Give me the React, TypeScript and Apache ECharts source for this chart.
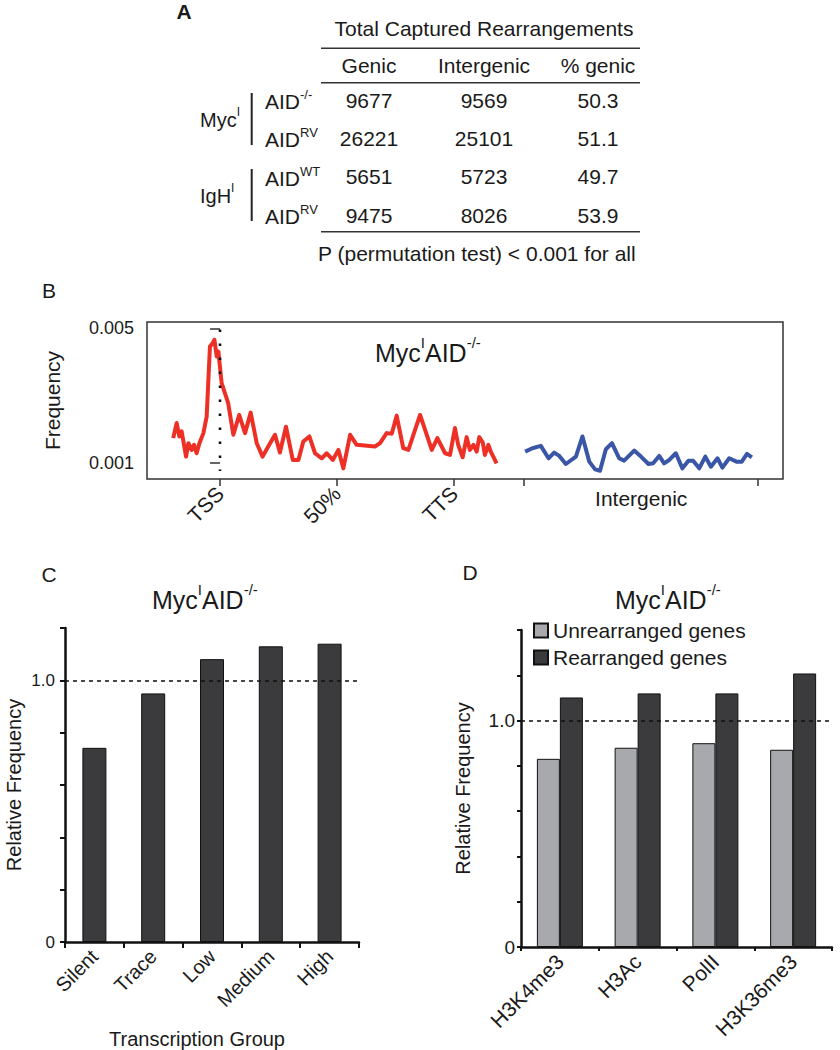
import { useEffect, useRef } from 'react';
import * as echarts from 'echarts';

const FONT = '"Liberation Sans", Arial, Helvetica, sans-serif';
const INK = '#1a1a1a';

// ---------- Panel A: table ----------
const tableTitle = 'Total Captured Rearrangements';
const tableHeaders = ['Genic', 'Intergenic', '% genic'];
const tableGroups = ['Myc', 'IgH'];
const tableGroupSup = 'I';
const rowGenotypes = ['-/-', 'RV', 'WT', 'RV'];
const genicCounts = [9677, 26221, 5651, 9475];
const intergenicCounts = [9569, 25101, 5723, 8026];
const percentGenic = ['50.3', '51.1', '49.7', '53.9'];
const tableFootnote = 'P (permutation test) < 0.001 for all';

// ---------- Panel B: frequency profile ----------
const genicTickPos = [0, 50, 100];
const genicTickLabels = ['TSS', '50%', 'TTS'];
const intergenicTickPos = [0, 100];
const intergenicLabel = 'Intergenic';
const freqTicks = [0.001, 0.005];
// genic position in % of gene body (TSS = 0, TTS = 100)
const genicPos = [-20.0, -18.5, -17.4, -16.4, -14.5, -13.5, -12.1, -11.1, -10.0, -8.8, -7.1, -5.7, -4.3, -3.1, -2.4, -1.4, -0.7, 0.7, 3.5, 5.7, 8.2, 10.7, 13.1, 15.7, 18.2, 20.6, 23.5, 25.6, 28.2, 31.1, 33.5, 35.6, 38.2, 40.6, 43.5, 45.6, 48.2, 50.6, 52.7, 55.6, 58.4, 66.2, 68.4, 71.2, 73.4, 75.5, 78.3, 80.5, 85.5, 90.5, 92.9, 96.2, 98.3, 100.4, 101.8, 103.7, 105.4, 106.8, 108.3, 109.7, 110.8, 112.3, 113.2, 114.7, 115.7, 116.8, 118.2];
const genicFreq = [0.00173, 0.00218, 0.00178, 0.00193, 0.00118, 0.00158, 0.00138, 0.00153, 0.00128, 0.00158, 0.00188, 0.00237, 0.00446, 0.00456, 0.00466, 0.00416, 0.00431, 0.00337, 0.00277, 0.00183, 0.00242, 0.00188, 0.00249, 0.00158, 0.00118, 0.00148, 0.00183, 0.0013, 0.00207, 0.00108, 0.00108, 0.00163, 0.00178, 0.00128, 0.00113, 0.00128, 0.00108, 0.00138, 0.00083, 0.00183, 0.00153, 0.00148, 0.00158, 0.00188, 0.00186, 0.0024, 0.00143, 0.00138, 0.00242, 0.00138, 0.00173, 0.00128, 0.00123, 0.00203, 0.00153, 0.00116, 0.00176, 0.00138, 0.00153, 0.00133, 0.00176, 0.0016, 0.00123, 0.00153, 0.00133, 0.00118, 0.00098];
// intergenic position in % of intergenic span
const interPos = [0.4, 3.5, 7.1, 10.4, 12.8, 15.0, 17.8, 22.1, 24.9, 27.8, 30.3, 32.4, 34.9, 37.5, 40.6, 42.7, 47.0, 49.9, 53.1, 55.1, 57.7, 59.8, 62.0, 64.8, 67.6, 70.2, 72.2, 74.8, 77.4, 79.8, 82.6, 84.7, 87.6, 90.7, 93.0, 95.2, 97.3];
const interFreq = [0.00133, 0.00143, 0.0015, 0.00113, 0.0013, 0.0012, 0.00096, 0.00118, 0.00178, 0.00103, 0.0008, 0.00076, 0.0014, 0.00158, 0.00113, 0.00106, 0.00136, 0.00118, 0.00096, 0.00098, 0.0012, 0.00098, 0.00108, 0.00128, 0.00083, 0.00106, 0.00106, 0.00083, 0.00118, 0.00088, 0.00113, 0.00085, 0.00113, 0.00103, 0.00103, 0.00126, 0.00116];

// ---------- Panel C ----------
const transcriptionGroups = ['Silent', 'Trace', 'Low', 'Medium', 'High'];
const transcriptionRelFreq = [0.742, 0.95, 1.081, 1.13, 1.14];

// ---------- Panel D ----------
const chromatinMarks = ['H3K4me3', 'H3Ac', 'PolII', 'H3K36me3'];
const unrearrangedRelFreq = [0.831, 0.88, 0.9, 0.871];
const rearrangedRelFreq = [1.102, 1.12, 1.12, 1.208];
const seriesNamesD = ['Unrearranged genes', 'Rearranged genes'];

const panelTitle = '{m|Myc}{s|I}{m|AID}{s|-/-}';

// layout constants
const INTER_OFFSET = 130; // where intergenic 0% sits on the panel-B x scale
const B_MIN = -31.2;
const B_MAX = 240.6;

function relLabel(v: number) {
  if (Math.abs(v) < 1e-9) return '0';
  if (Math.abs(v - 1) < 1e-9) return '1.0';
  return '';
}

function buildTableGraphics() {
  const els: any[] = [];
  const txt = (text: string, x: number, y: number, align = 'center', size = 21, extra: any = {}) => ({
    type: 'text',
    x,
    y,
    silent: true,
    style: { text, fontSize: size, fontFamily: FONT, fill: INK, align, verticalAlign: 'middle', ...extra },
  });
  const hline = (y: number) => ({
    type: 'line',
    silent: true,
    shape: { x1: 321, y1: y, x2: 640, y2: y },
    style: { stroke: '#333', lineWidth: 1.6 },
  });
  const vline = (x: number, y1: number, y2: number) => ({
    type: 'line',
    silent: true,
    shape: { x1: x, y1, x2: x, y2 },
    style: { stroke: '#222', lineWidth: 2 },
  });
  const colX = [369, 484, 598];
  const rowY = [100, 138.3, 176.7, 215];
  els.push(txt('A', 184, 11, 'center', 21, { fontWeight: 'bold' }));
  els.push(txt(tableTitle, 484, 28));
  els.push(hline(48.3));
  tableHeaders.forEach((h, i) => els.push(txt(h, colX[i], 65)));
  els.push(hline(82.7));
  rowY.forEach((y, r) => {
    els.push(
      txt('{m|AID}{s|' + rowGenotypes[r] + '}', 265, y, 'left', 21, {
        rich: {
          m: { fontSize: 21, fontFamily: FONT, fill: INK, lineHeight: 24, verticalAlign: 'bottom' },
          s: { fontSize: 13, fontFamily: FONT, fill: INK, lineHeight: 14, verticalAlign: 'top' },
        },
      })
    );
    els.push(txt(String(genicCounts[r]), colX[0], y));
    els.push(txt(String(intergenicCounts[r]), colX[1], y));
    els.push(txt(percentGenic[r], colX[2], y));
  });
  const groupY = [118.3, 194];
  tableGroups.forEach((g, i) => {
    els.push(
      txt('{m|' + g + '}{s|' + tableGroupSup + '}', 200, groupY[i], 'left', 21, {
        rich: {
          m: { fontSize: 20, fontFamily: FONT, fill: INK, lineHeight: 24, verticalAlign: 'bottom' },
          s: { fontSize: 12, fontFamily: FONT, fill: INK, lineHeight: 14, verticalAlign: 'top' },
        },
      })
    );
  });
  els.push(vline(251.7, 93, 145));
  els.push(vline(251.7, 169, 221));
  els.push(hline(231.7));
  els.push(txt(tableFootnote, 318, 253.5, 'left', 21));
  // panel letters
  els.push(txt('B', 49, 290, 'center', 21));
  els.push(txt('C', 49, 574, 'center', 21));
  els.push(txt('D', 470, 572, 'center', 21));
  return els;
}

export default function App() {
  const ref = useRef<HTMLDivElement>(null);
  useEffect(() => {
    if (!ref.current) return;
    const chart = echarts.init(ref.current, undefined, { renderer: 'svg' });
    const titleRich = {
      m: { fontSize: 25, fontWeight: 'normal', fontFamily: FONT, color: INK, lineHeight: 30, verticalAlign: 'bottom' },
      s: { fontSize: 15, fontWeight: 'normal', fontFamily: FONT, color: INK, lineHeight: 16, verticalAlign: 'top' },
    };
    const titleCfg = (left: number, top: number) => ({
      text: panelTitle,
      left,
      top,
      padding: 0,
      textStyle: { fontWeight: 'normal', rich: titleRich },
    });
    const relAxis = (gridIndex: number, max: number, nameGap: number, labelSize: number, tickLen: number, margin: number) => ({
      type: 'value',
      gridIndex,
      min: 0,
      max,
      interval: 0.2,
      splitLine: { show: false },
      axisLine: { show: true, lineStyle: { color: '#111', width: 2.5 } },
      axisTick: { show: true, length: tickLen, lineStyle: { color: '#111', width: 2 } },
      axisLabel: { formatter: relLabel, fontSize: labelSize, color: INK, margin, fontFamily: FONT },
      name: 'Relative Frequency',
      nameLocation: 'middle',
      nameGap,
      nameTextStyle: { fontSize: 20, color: INK, fontFamily: FONT },
    });
    const dashed1 = {
      silent: true,
      symbol: ['none', 'none'],
      label: { show: false },
      lineStyle: { color: '#111', width: 1.5, type: [4, 4] },
      data: [{ yAxis: 1 }],
    };
    const barBorder = { borderColor: '#111', borderWidth: 1 };

    const option: any = {
      animation: false,
      backgroundColor: '#fff',
      textStyle: { fontFamily: FONT },
      title: [titleCfg(375, 335), titleCfg(152, 582), titleCfg(615, 582)],
      legend: {
        data: seriesNamesD,
        orient: 'vertical',
        left: 533,
        top: 620,
        padding: 0,
        itemWidth: 14,
        itemHeight: 14,
        itemGap: 6,
        icon: 'rect',
        textStyle: { fontSize: 21, color: INK, fontFamily: FONT },
      },
      grid: [
        { left: 147, top: 322, width: 636, height: 157, show: true, borderColor: '#333', borderWidth: 1.5, backgroundColor: 'transparent' },
        { left: 65, top: 628, width: 294, height: 322 },
        { left: 521, top: 630, width: 311, height: 317 },
      ],
      xAxis: [
        {
          type: 'value',
          gridIndex: 0,
          position: 'bottom',
          min: B_MIN,
          max: B_MAX,
          axisLine: { show: false },
          splitLine: { show: false },
          axisTick: {
            show: true,
            customValues: [...genicTickPos, ...intergenicTickPos.map((p) => p + INTER_OFFSET)],
            length: 7,
            lineStyle: { color: '#333', width: 1.5 },
          },
          axisLabel: {
            customValues: genicTickPos,
            formatter: (v: number) => genicTickLabels[genicTickPos.indexOf(v)] ?? '',
            rotate: 45,
            fontSize: 21,
            color: INK,
            margin: 11,
            fontFamily: FONT,
          },
        },
        {
          type: 'value',
          gridIndex: 0,
          position: 'bottom',
          offset: 0,
          min: B_MIN,
          max: B_MAX,
          axisLine: { show: false },
          axisTick: { show: false },
          splitLine: { show: false },
          axisLabel: {
            customValues: [INTER_OFFSET + (intergenicTickPos[0] + intergenicTickPos[1]) / 2],
            formatter: () => intergenicLabel,
            fontSize: 21,
            color: INK,
            margin: 9,
            fontFamily: FONT,
          },
        },
        {
          type: 'category',
          gridIndex: 1,
          data: transcriptionGroups,
          axisLine: { lineStyle: { color: '#111', width: 2.5 } },
          axisTick: { show: true, length: 6, lineStyle: { color: '#111', width: 2 } },
          axisLabel: { rotate: 45, interval: 0, fontSize: 20, color: INK, margin: 11, fontFamily: FONT },
          name: 'Transcription Group',
          nameLocation: 'middle',
          nameGap: 87,
          nameTextStyle: { fontSize: 20, color: INK, padding: [0, 30, 0, 0], fontFamily: FONT },
        },
        {
          type: 'category',
          gridIndex: 2,
          data: chromatinMarks,
          axisLine: { lineStyle: { color: '#111', width: 2.5 } },
          axisTick: { show: true, length: 4, lineStyle: { color: '#111', width: 2 } },
          axisLabel: { rotate: 45, interval: 0, fontSize: 21, color: INK, margin: 11, fontFamily: FONT },
        },
      ],
      yAxis: [
        {
          type: 'value',
          gridIndex: 0,
          min: 0.000513,
          max: 0.00519,
          axisLine: { show: false },
          splitLine: { show: false },
          axisTick: { show: true, customValues: freqTicks, length: 10, lineStyle: { color: '#333', width: 1.5 } },
          axisLabel: {
            customValues: freqTicks,
            formatter: (v: number) => v.toFixed(3),
            fontSize: 18,
            color: INK,
            margin: 13,
            fontFamily: FONT,
          },
          name: 'Frequency',
          nameLocation: 'middle',
          nameGap: 84,
          nameTextStyle: { fontSize: 21, color: INK, fontFamily: FONT },
        },
        relAxis(1, 1.2, 41, 17, 5, 10),
        relAxis(2, 1.4, 48, 19, 4, 6),
      ],
      series: [
        {
          type: 'line',
          name: 'genic',
          xAxisIndex: 0,
          yAxisIndex: 0,
          data: genicPos.map((p, i) => [p, genicFreq[i]]),
          showSymbol: false,
          lineStyle: { color: '#ee2f25', width: 4, join: 'round' },
          itemStyle: { color: '#ee2f25' },
        },
        {
          type: 'line',
          name: 'intergenic',
          xAxisIndex: 0,
          yAxisIndex: 0,
          data: interPos.map((p, i) => [p + INTER_OFFSET, interFreq[i]]),
          showSymbol: false,
          lineStyle: { color: '#3a56a6', width: 4, join: 'round' },
          itemStyle: { color: '#3a56a6' },
        },
        {
          type: 'line',
          name: 'tssMarker',
          xAxisIndex: 0,
          yAxisIndex: 0,
          data: [
            [genicTickPos[0], 0.00497],
            [genicTickPos[0], 0.00075],
          ],
          showSymbol: false,
          silent: true,
          z: 5,
          lineStyle: { color: '#111', width: 2.6, type: [2.6, 11.4], cap: 'butt' },
          itemStyle: { color: '#111' },
        },
        {
          type: 'bar',
          name: 'transcription',
          xAxisIndex: 2,
          yAxisIndex: 1,
          data: transcriptionRelFreq,
          barWidth: 24,
          itemStyle: { color: '#3b3b3d', ...barBorder },
          markLine: dashed1,
        },
        {
          type: 'bar',
          name: seriesNamesD[0],
          xAxisIndex: 3,
          yAxisIndex: 2,
          data: unrearrangedRelFreq,
          barWidth: 23,
          barGap: '0%',
          itemStyle: { color: '#a8a9ac', ...barBorder },
          markLine: dashed1,
        },
        {
          type: 'bar',
          name: seriesNamesD[1],
          xAxisIndex: 3,
          yAxisIndex: 2,
          data: rearrangedRelFreq,
          barWidth: 23,
          barGap: '0%',
          itemStyle: { color: '#3b3b3d', ...barBorder },
        },
      ],
      graphic: buildTableGraphics(),
    };
    chart.setOption(option);
    return () => chart.dispose();
  }, []);
  return (
    <div
      ref={ref}
      style={{ position: 'absolute', left: 0, top: 0, width: 840, height: 1050, background: '#fff' }}
    />
  );
}
